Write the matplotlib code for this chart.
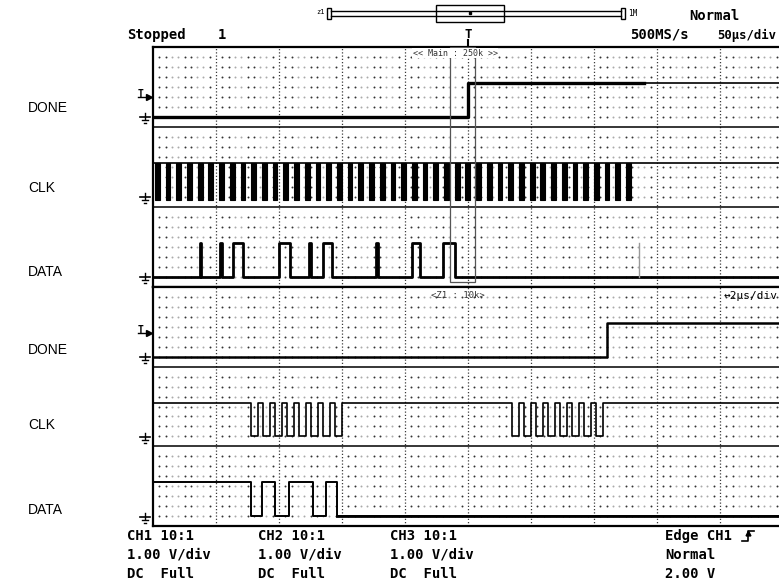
import numpy as np
import matplotlib.pyplot as plt
from matplotlib.patches import Rectangle

W, H = 779, 582

# ---------------------------------------------------------------
# data
# ---------------------------------------------------------------
labels = ['DONE', 'CLK', 'DATA', 'DONE', 'CLK', 'DATA']

# main window, 50 us/div
main_span = 500.0
done_rise_main = 250.0
clk_bursts_main = [1.5, 10.0, 18.5, 27.0, 35.5, 44.0, 52.5, 61.0, 69.5, 78.0,
                   86.5, 95.0, 103.5, 112.0, 120.5, 129.0, 137.5, 146.0, 154.5,
                   163.0, 171.5, 180.0, 188.5, 197.0, 205.5, 214.0, 222.5,
                   231.0, 239.5, 248.0, 256.5, 265.0, 273.5, 282.0, 290.5,
                   299.0, 307.5, 316.0, 324.5, 333.0, 341.5, 350.0, 358.5,
                   367.0, 375.5]
clk_burst_len = 3.8
data_pulses_main = [(37.0, 38.2), (53.5, 54.7), (63.5, 71.5), (100.0, 108.5),
                    (124.0, 125.2), (135.0, 142.0), (177.0, 178.2),
                    (205.5, 212.0), (230.0, 240.0)]
data_glitch_main = 385.5
zoom_box_main = (235.7, 255.6)

# zoom window, 2 us/div
zoom_span = 20.0
done_rise_zoom = 14.4
clk_low_zoom = [(3.11, 3.33), (3.49, 3.71), (3.87, 4.09), (4.25, 4.47),
                (4.63, 4.85), (5.02, 5.24), (5.40, 5.62), (5.78, 6.00),
                (11.40, 11.62), (11.78, 12.00), (12.16, 12.38), (12.54, 12.76),
                (12.92, 13.14), (13.30, 13.52), (13.68, 13.90), (14.06, 14.30)]
data_high_until_zoom = 3.11
data_pulses_zoom = [(3.46, 3.87), (4.32, 5.08), (5.49, 5.84)]

mono = 'DejaVu Sans Mono'


def levels(k):
    top = 8 * k
    return top + 3.6, top + 7.0


def pulse_trace(pulses, lo, hi, span, start_high_until=None):
    xs, ys = [0.0], [lo]
    if start_high_until is not None:
        xs, ys = [0.0, start_high_until, start_high_until], [hi, hi, lo]
    for a, b in pulses:
        xs += [a, a, b, b]
        ys += [lo, hi, hi, lo]
    xs.append(span)
    ys.append(lo)
    return xs, ys


def draw_grid(ax, span):
    div = span / 10
    for i in range(1, 10):
        ax.axvline(i * div, ls=(0, (1, 1.6)), color='#3a3a3a', lw=0.9, zorder=1)
    idx = np.arange(1, 100)
    idx = idx[idx % 10 != 0]
    xd = idx * div / 10
    dark = np.isin(idx % 10, [1, 2, 5, 6, 9])
    for k in range(3):
        for r in range(1, 8):
            y = 8 * k + r
            ax.scatter(xd[dark], np.full(dark.sum(), y), s=2.0, color='#333',
                       lw=0, zorder=1)
            ax.scatter(xd[~dark], np.full((~dark).sum(), y), s=2.0, color='#aaa',
                       lw=0, zorder=1)
    for y in (8, 16):
        ax.axhline(y, color='black', lw=1.1, zorder=2)
    ax.set_xlim(0, span)
    ax.set_ylim(24, 0)
    ax.set_xticks([])
    ax.set_yticks([])
    for s in ax.spines.values():
        s.set_linewidth(1.6)


fig = plt.figure(figsize=(W / 100, H / 100), dpi=100)

# overlay for text around the screen, pixel units
ov = fig.add_axes([0, 0, 1, 1])
ov.set_xlim(0, W)
ov.set_ylim(H, 0)
ov.axis('off')

x0, x1 = 153, 783
top_main = fig.add_axes([x0 / W, (H - 287) / H, (x1 - x0) / W, 240 / H])
bot_zoom = fig.add_axes([x0 / W, (H - 526) / H, (x1 - x0) / W, 239 / H])
draw_grid(top_main, main_span)
draw_grid(bot_zoom, zoom_span)

# ---- main window traces
hi, lo = levels(0)
top_main.plot([0, done_rise_main, done_rise_main, 390],
              [lo, lo, hi, hi], color='black', lw=2.4, zorder=4)
top_main.plot([390, main_span], [hi, hi], color='black', lw=1.2, zorder=4)

hi, lo = levels(1)
top_main.axhline(hi, color='black', lw=1.2, zorder=4)
for t in clk_bursts_main:
    top_main.add_patch(Rectangle((t, hi), clk_burst_len, lo - hi + 0.3,
                                 facecolor='black', edgecolor='black', lw=0.8,
                                 zorder=4))

hi, lo = levels(2)
xs, ys = pulse_trace(data_pulses_main, lo, hi, main_span)
top_main.plot(xs, ys, color='black', lw=2.0, zorder=4)
top_main.plot([data_glitch_main] * 2, [lo, hi], color='#999', lw=1, zorder=4)

zx0, zx1 = zoom_box_main
top_main.add_patch(Rectangle((zx0, 0), zx1 - zx0, 23.5, fill=False,
                             edgecolor='#555', lw=0.9, zorder=5))
top_main.text(0.412 * main_span, 0.6, '<< Main : 250k >>', family=mono,
              fontsize=6, color='#333', va='center', zorder=6,
              bbox=dict(facecolor='white', edgecolor='none', pad=0.5))

# ---- zoom window traces
hi, lo = levels(0)
bot_zoom.plot([0, done_rise_zoom, done_rise_zoom, zoom_span],
              [lo, lo, hi, hi], color='black', lw=1.8, zorder=4)

hi, lo = levels(1)
xs, ys = pulse_trace(clk_low_zoom, hi, lo, zoom_span)
bot_zoom.plot(xs, ys, color='black', lw=1.2, zorder=4)

hi, lo = levels(2)
xs, ys = pulse_trace(data_pulses_zoom, lo, hi, zoom_span,
                     start_high_until=data_high_until_zoom)
bot_zoom.plot(xs, ys, color='black', lw=1.4, zorder=4)
bot_zoom.plot([data_pulses_zoom[-1][1], zoom_span], [lo, lo], color='black',
              lw=2.0, zorder=4)

bot_zoom.text(0.442 * zoom_span, 0.85, '<Z1 : 10k>', family=mono, fontsize=6.5,
              color='#333', va='center', zorder=6)
bot_zoom.text(0.905 * zoom_span, 0.95, '↔2µs/div', family=mono, fontsize=8,
              color='black', va='center', zorder=6)

# ---- channel labels on the left
label_y = [108, 188, 272, 350, 425, 510]
for name, y in zip(labels, label_y):
    ov.text(28, y, name, family='Liberation Sans', fontsize=10, va='center')

# ground marks and trigger level marks
for k in range(6):
    gy = 47 + 80 * k + 70 if k < 3 else 287 + 80 * (k - 3) + 70
    ov.plot([145, 145], [gy - 4, gy + 2], color='black', lw=1)
    ov.plot([140, 150], [gy, gy], color='black', lw=1.2)
    ov.plot([142, 148], [gy + 3, gy + 3], color='black', lw=1)
    ov.plot([144, 146], [gy + 6, gy + 6], color='black', lw=1)
for ty in (97, 333):
    ov.text(138, ty - 3, 'T', family=mono, fontsize=7, fontweight='bold',
            va='center')
    ov.plot([138, 149], [ty, ty], color='black', lw=1)
    ov.plot([149], [ty], marker='>', color='black', ms=4)

# ---- header
ov.text(127, 35, 'Stopped', family=mono, fontsize=10, fontweight='bold', va='center')
ov.text(218, 35, '1', family=mono, fontsize=10, fontweight='bold', va='center')
ov.text(689, 16, 'Normal', family=mono, fontsize=10, fontweight='bold', va='center')
ov.text(630, 35, '500MS/s', family=mono, fontsize=10, fontweight='bold', va='center')
ov.text(717, 35, '50µs/div', family=mono, fontsize=8.8, fontweight='bold', va='center')

ov.text(316, 12, 'z1', family=mono, fontsize=5, va='center')
ov.plot([331, 621], [11, 11], color='black', lw=1)
ov.plot([331, 621], [16, 16], color='black', lw=1)
ov.add_patch(Rectangle((327, 8), 4, 11, fill=False, edgecolor='black', lw=1))
ov.add_patch(Rectangle((621, 8), 4, 11, fill=False, edgecolor='black', lw=1))
ov.text(628, 14, '1M', family=mono, fontsize=5.5, va='center')
ov.add_patch(Rectangle((436, 5), 68, 17, fill=False, edgecolor='black', lw=1))
ov.plot([470], [13], marker='s', color='black', ms=2)
ov.text(465, 35, 'T', family=mono, fontsize=9, fontweight='bold', va='center')
ov.plot([468, 468], [40, 46], color='black', lw=1.5)

# ---- footer
cols = [127, 258, 390]
for i, cx in enumerate(cols):
    ov.text(cx, 536, f'CH{i + 1} 10:1', family=mono, fontsize=10,
            fontweight='bold', va='center')
    ov.text(cx, 555, '1.00 V/div', family=mono, fontsize=10,
            fontweight='bold', va='center')
    ov.text(cx, 574, 'DC  Full', family=mono, fontsize=10,
            fontweight='bold', va='center')
ov.text(665, 536, 'Edge CH1', family=mono, fontsize=10, fontweight='bold', va='center')
ov.plot([742, 748, 748, 754], [541, 541, 531, 531], color='black', lw=1.2)
ov.plot([748], [533], marker='^', color='black', ms=3.5)
ov.text(665, 555, 'Normal', family=mono, fontsize=10, fontweight='bold', va='center')
ov.text(665, 574, '2.00 V', family=mono, fontsize=10, fontweight='bold', va='center')

fig.savefig('out.png', dpi=100)
